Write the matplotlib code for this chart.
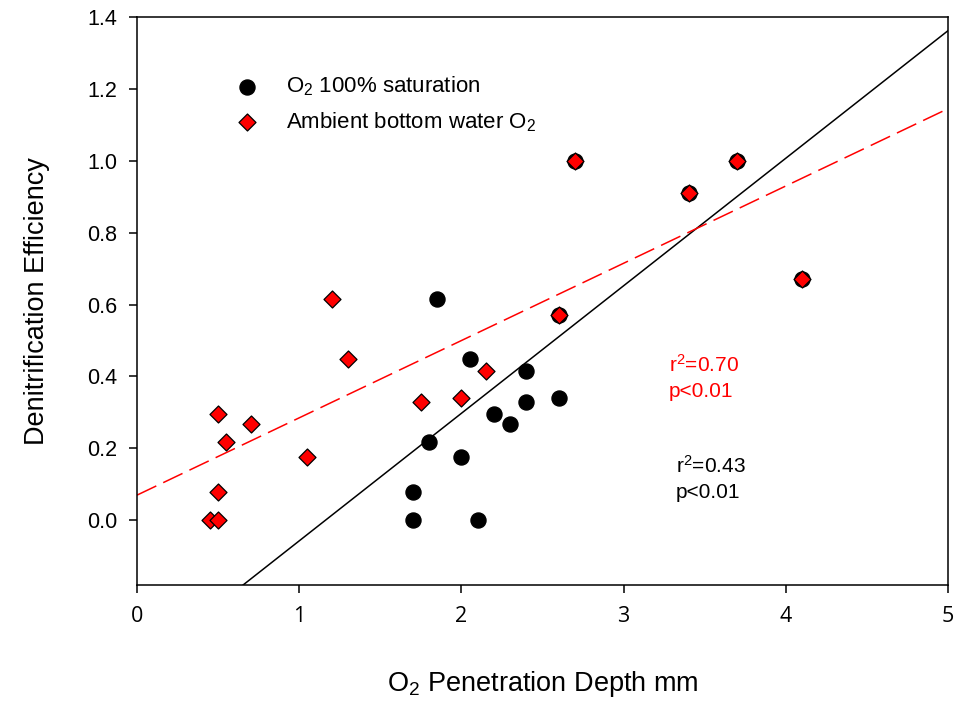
import numpy as np
import matplotlib
matplotlib.use("Agg")
import matplotlib.pyplot as plt

plt.rcParams['font.family'] = ['Liberation Sans', 'DejaVu Sans']
plt.rcParams['mathtext.fontset'] = 'custom'
plt.rcParams['mathtext.rm'] = 'Liberation Sans'
plt.rcParams['mathtext.it'] = 'Liberation Sans:italic'

# O2 100% saturation
sat_x = [1.85, 2.05, 2.4, 2.4, 2.6, 2.2, 2.3, 1.8, 2.0, 1.7, 1.7, 2.1, 2.6, 2.7, 3.4, 3.7, 4.1]
sat_y = [0.615, 0.45, 0.415, 0.33, 0.34, 0.295, 0.267, 0.217, 0.177, 0.079, 0.0, 0.0, 0.57, 1.0, 0.91, 1.0, 0.67]

# ambient bottom water O2
amb_x = [1.2, 1.3, 0.5, 0.7, 0.55, 1.05, 0.5, 0.45, 0.5, 1.75, 2.0, 2.15, 2.6, 2.7, 3.4, 3.7, 4.1]
amb_y = [0.615, 0.45, 0.295, 0.267, 0.217, 0.177, 0.079, 0.0, 0.0, 0.33, 0.34, 0.415, 0.57, 1.0, 0.91, 1.0, 0.67]

# regression lines as shown (slope, intercept)
sat_fit = (0.3548, -0.412)
amb_fit = (0.215, 0.07)

xticks = [0, 1, 2, 3, 4, 5]
yticks = [0.0, 0.2, 0.4, 0.6, 0.8, 1.0, 1.2, 1.4]

fig = plt.figure(figsize=(9.58, 7.11), dpi=100)
ax = fig.add_axes([0.1430, 0.1772, 0.8466, 0.7989])

xl = np.linspace(0, 5, 200)
ax.plot(xl, sat_fit[0] * xl + sat_fit[1], color='black', lw=1.1, zorder=2)
ax.plot(xl, amb_fit[0] * xl + amb_fit[1], color='red', lw=1.1, dashes=(14, 5), zorder=2)

ax.scatter(sat_x, sat_y, s=117, marker='o', color='black', zorder=3,
           label=r'O$_2$ 100% saturation')
ax.scatter(amb_x, amb_y, s=75, marker='D', facecolor='red', edgecolor='black',
           linewidth=0.9, zorder=4, label=r'Ambient bottom water O$_2$')

ax.set_xlim(0, 5)
ax.set_ylim(-0.18, 1.4)
ax.set_xticks(xticks)
ax.set_xticklabels([str(v) for v in xticks], fontfamily='Open Sans', fontsize=15.5)
ax.set_yticks(yticks)
ax.set_yticklabels(['%.1f' % v for v in yticks], fontsize=15.5)
ax.tick_params(direction='out', length=6, width=1.1)
ax.tick_params(axis='y', pad=8)
ax.tick_params(axis='x', pad=9)
for sp in ax.spines.values():
    sp.set_linewidth(1.1)

ax.set_xlabel(r'O$_2$ Penetration Depth mm', fontsize=19.5, labelpad=30)
ax.set_ylabel('Denitrification Efficiency', fontsize=19.5, labelpad=27)

ax.text(3.28, 0.413, r'r$^2$=0.70', color='red', fontsize=15)
ax.text(3.28, 0.343, 'p<0.01', color='red', fontsize=15)
ax.text(3.32, 0.132, r'r$^2$=0.43', color='black', fontsize=15)
ax.text(3.32, 0.062, 'p<0.01', color='black', fontsize=15)

ax.legend(loc='upper left', bbox_to_anchor=(0.1215, 0.899), frameon=False,
          fontsize=16, handlelength=1.0, handletextpad=1.25, borderpad=0,
          borderaxespad=0, labelspacing=0.55, scatterpoints=1)

fig.savefig('out.png', dpi=100)
